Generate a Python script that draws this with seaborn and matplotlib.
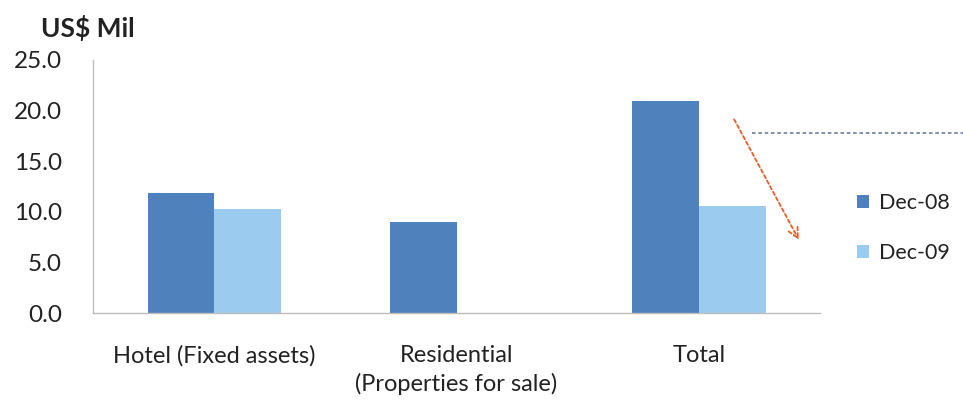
import matplotlib
matplotlib.use("Agg")
import matplotlib.pyplot as plt
import seaborn as sns
import pandas as pd
from matplotlib.patches import Patch
from matplotlib.ticker import FormatStrFormatter

# Values in US$ million
categories = ["Hotel (Fixed assets)", "Residential\n(Properties for sale)", "Total"]
dec08 = [11.9, 9.0, 20.9]
dec09 = [10.3, 0.0, 10.6]
series = ["Dec-08", "Dec-09"]
colors = ["#4f81bd", "#9ccbf0"]
yticks = [0, 5, 10, 15, 20, 25]

df = pd.DataFrame({
    "category": categories * 2,
    "value": dec08 + dec09,
    "period": [series[0]] * len(categories) + [series[1]] * len(categories),
})

sns.set_theme(style="white")
plt.rcParams["font.family"] = ["Lato", "DejaVu Sans"]

fig = plt.figure(figsize=(9.63, 4.0), dpi=100)
ax = fig.add_axes([0.0966, 0.2175, 0.755, 0.6325])

sns.barplot(data=df, x="category", y="value", hue="period", order=categories,
            hue_order=series, palette=colors, width=0.55, saturation=1,
            edgecolor="none", linewidth=0, legend=False, ax=ax)

ax.set_ylim(0, 25)
ax.set_xlim(-0.5, len(categories) - 0.5)
ax.set_yticks(yticks)
ax.yaxis.set_major_formatter(FormatStrFormatter("%.1f"))
ax.set_xlabel("")
ax.set_ylabel("")

for side in ["top", "right"]:
    ax.spines[side].set_visible(False)
for side in ["left", "bottom"]:
    ax.spines[side].set_color("#bdbdbd")
    ax.spines[side].set_linewidth(1.0)

ax.tick_params(axis="y", which="major", length=4.5, width=1, color="#bdbdbd",
               direction="out", labelsize=17.5, labelcolor="#222222", pad=18)
ax.tick_params(axis="x", which="major", length=0, labelsize=17,
               labelcolor="#222222", pad=23)
ax.set_xticks([i - 0.5 for i in range(len(categories) + 1)], minor=True)
ax.tick_params(axis="x", which="minor", length=7, width=1, color="#bdbdbd",
               direction="out")
for lbl in ax.get_xticklabels():
    lbl.set_verticalalignment("top")
    lbl.set_linespacing(1.38)

fig.text(0.043, 0.93, "US$ Mil", fontsize=19, fontweight="bold",
         color="#222222", ha="left", va="center")

handles = [Patch(facecolor=c, edgecolor="none") for c in colors]
fig.legend(handles, series, loc="center left", bbox_to_anchor=(0.870, 0.43),
           frameon=False, fontsize=15.5, handlelength=0.55, handleheight=0.55,
           handletextpad=0.45, labelspacing=1.4, labelcolor="#222222")

# Decorative callouts: falling-value arrow and dotted leader line
ax.annotate("", xy=(0.9725, 0.28), xytext=(0.88, 0.775), xycoords="axes fraction",
            arrowprops=dict(arrowstyle="->", color="#f05a28", lw=1.3,
                            linestyle=(0, (2, 1.5)), mutation_scale=18))
fig.add_artist(plt.Line2D([0.781, 1.0], [0.667, 0.667], color="#7a86a8",
                          lw=1.3, linestyle=(0, (2, 1.5))))

fig.savefig("out.png", dpi=100, facecolor="white")
